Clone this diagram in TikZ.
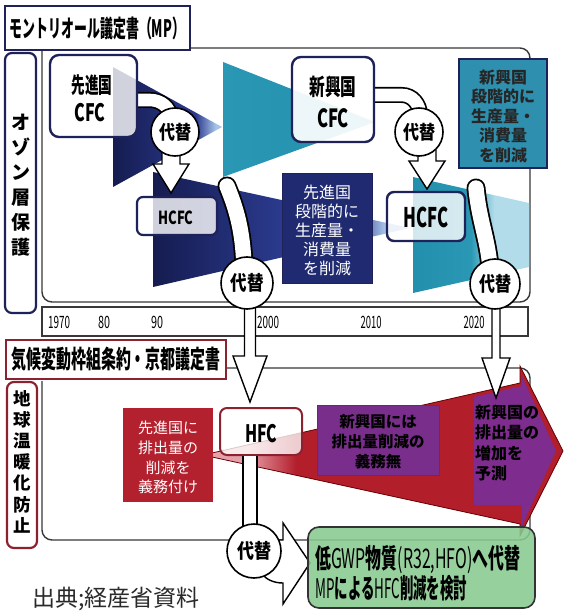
\documentclass[tikz,border=0pt]{standalone}
\usepackage{fontspec}
\setmainfont{Noto Sans CJK JP}
\usepackage{graphicx}
\definecolor{nv1}{HTML}{151C50}
\definecolor{nv2}{HTML}{2B3A8E}
\definecolor{nvL}{HTML}{A6C2E8}
\definecolor{navyB}{HTML}{1E2258}
\definecolor{navybox}{HTML}{1F2A70}
\definecolor{teal1}{HTML}{2290AD}
\definecolor{teal2}{HTML}{2A98B4}
\definecolor{tealL}{HTML}{B2DCEA}
\definecolor{tealbox}{HTML}{2F8FAE}
\definecolor{frm}{HTML}{383838}
\definecolor{redB}{HTML}{8C2230}
\definecolor{redA}{HTML}{B31E2B}
\definecolor{pinkA}{HTML}{E6A0AA}
\definecolor{redbox}{HTML}{B3202E}
\definecolor{purp}{HTML}{7E2C8D}
\definecolor{purpbox}{HTML}{7A2E8C}
\definecolor{grn}{HTML}{88CA90}
\definecolor{srcgray}{HTML}{2A2A2A}
\pgfdeclarehorizontalshading{navyA}{100bp}{color(0bp)=(nv1); color(25bp)=(nv1); color(63bp)=(nv2); color(72bp)=(nvL); color(100bp)=(nvL)}
\pgfdeclarehorizontalshading{navyC}{100bp}{color(0bp)=(nv1); color(25bp)=(nv1); color(50bp)=(nv2); color(64bp)=(nv2); color(70bp)=(nvL); color(100bp)=(nvL)}
\pgfdeclarehorizontalshading{tealA}{100bp}{color(0bp)=(teal2); color(25bp)=(teal2); color(75bp)=(teal1); color(100bp)=(teal1)}
\pgfdeclarehorizontalshading{tealB}{100bp}{color(0bp)=(teal1); color(25bp)=(teal1); color(50bp)=(teal2); color(60bp)=(tealL); color(100bp)=(tealL)}
\pgfdeclarehorizontalshading{redS}{100bp}{color(0bp)=(pinkA); color(25bp)=(pinkA); color(30bp)=(pinkA); color(37bp)=(redA); color(100bp)=(redA)}
\newcommand\fw[3]{\resizebox{#1}{\height}{\fontsize{#2}{#2}\selectfont #3}}
\begin{document}
\begin{tikzpicture}[x=1pt,y=-1pt,
  frameline/.style={draw=frm,line width=1.4pt},
  cbox/.style={draw=navyB,line width=2.4pt,rounded corners=9pt,fill=white,fill opacity=0.8,inner sep=0pt},
  txt/.style={inner sep=0pt},
  bandO/.style={draw=black,line width=19pt,line cap=round},
  bandI/.style={draw=white,line width=15.4pt,line cap=round},
  bandOs/.style={draw=black,line width=16pt},
  bandIs/.style={draw=white,line width=12.6pt},
  subst/.style={circle,draw=black,line width=1.6pt,fill=white,inner sep=0pt},
  warrow/.style={draw=black,line width=1.4pt,fill=white,line join=miter},
  yr/.style={inner sep=0pt}
]
\useasboundingbox[fill=white] (0,0) rectangle (564,612);

% frames
\draw[frameline,rounded corners=10pt] (190,48) -- (530,48) -- (530,302) -- (42,302) -- (42,51);
\draw[frameline,rounded corners=10pt] (226,368) -- (530,368) -- (530,540) -- (42,540) -- (42,381);

% timeline
\node[draw=frm,line width=1.4pt,fill=white,minimum width=486pt,minimum height=29pt,inner sep=0pt] (tline) at (285,321.5) {};
\node[yr] (y1970) at (59,322) {\fw{22pt}{17}{1970}};
\node[yr] (y1980) at (104,322) {\fw{12pt}{17}{80}};
\node[yr] (y1990) at (157,322) {\fw{12pt}{17}{90}};
\node[yr] (y2000) at (268,322) {\fw{22pt}{17}{2000}};
\node[yr] (y2010) at (371,322) {\fw{21pt}{17}{2010}};
\node[yr] (y2020) at (474,322) {\fw{21pt}{17}{2020}};

% left boxes
\node[draw=navyB,line width=2.2pt,rounded corners=7pt,fill=white,minimum width=31pt,minimum height=260pt,inner sep=0pt] (ozbox) at (20.5,183) {};
\node[txt,align=center,font=\fontsize{19}{25}\selectfont\bfseries] (oztxt) at (20.5,185.5) {オ\\ゾ\\ン\\層\\保\\護};
\node[draw=redB,line width=2.2pt,rounded corners=7pt,fill=white,minimum width=30pt,minimum height=166pt,inner sep=0pt] (gwbox) at (22,465) {};
\node[txt,align=center,font=\fontsize{17.5}{21.2}\selectfont\bfseries] (gwtxt) at (22,461.5) {地\\球\\温\\暖\\化\\防\\止};

% title boxes
\node[draw=navyB,line width=2.6pt,fill=white,minimum width=185pt,minimum height=44pt,inner sep=0pt] (mp) at (97.5,28) {\fw{175pt}{24}{\bfseries モントリオール議定書（MP）}};
\node[draw=redB,line width=2.4pt,fill=white,minimum width=220pt,minimum height=39pt,inner sep=0pt] (kyoto) at (116,359.5) {\fw{209pt}{25}{\bfseries 気候変動枠組条約・京都議定書}};

% wedges
\shade[shading=navyA] (113,67) -- (222,127) -- (113,187) -- cycle;
\shade[shading=navyC] (153,172) -- (410,228) -- (153,287) -- cycle;
\draw[bandO] (227,186) .. controls (236,208) and (243,230) .. (244,268);
\draw[bandI] (227,186) .. controls (236,208) and (243,230) .. (244,268);
\shade[shading=tealA] (223,62) -- (375,122) -- (223,177) -- cycle;
\shade[shading=tealB] (413,177) -- (529,203) -- (529,267) -- (413,293) -- cycle;
\draw[bandO] (476,188) .. controls (479,220) and (488,240) .. (490,268);
\draw[bandI] (476,188) .. controls (479,220) and (488,240) .. (490,268);
\draw[bandOs] (136,100) -- (150,100) to[out=0,in=95] (171,118);
\draw[bandIs] (136,100) -- (150,100) to[out=0,in=95] (171,118);
\draw[bandOs] (373,95) -- (402,95) to[out=0,in=90] (420,115);
\draw[bandIs] (373,95) -- (402,95) to[out=0,in=90] (420,115);

% CFC / HCFC boxes
\node[cbox,minimum width=87pt,minimum height=82pt] (cfcA) at (93.5,96) {};
\node[txt] (cfcAt1) at (92,85) {\fw{41pt}{22}{\bfseries 先進国}};
\node[txt] (cfcAt2) at (90,113) {\fw{31pt}{24}{\bfseries CFC}};
\node[cbox,fill opacity=0.92,minimum width=82pt,minimum height=85pt] (cfcB) at (333,99.5) {};
\node[txt] (cfcBt1) at (333,87) {\fw{47pt}{23}{\bfseries 新興国}};
\node[txt] (cfcBt2) at (333,118) {\fw{32pt}{25}{\bfseries CFC}};
\node[cbox,line width=2.2pt,rounded corners=6pt,minimum width=80pt,minimum height=38pt] (hcfcA) at (177,216) {};
\node[txt] (hcfcAt) at (176,218) {\fw{35pt}{18}{\bfseries HCFC}};
\node[cbox,line width=2.4pt,rounded corners=7pt,minimum width=78pt,minimum height=49pt] (hcfcB) at (426,216.5) {};
\node[txt] (hcfcBt) at (426,217) {\fw{45pt}{27}{\bfseries HCFC}};

% text boxes ozone
\node[fill=navybox,draw=navyB,line width=0.8pt,minimum width=90pt,minimum height=110pt,inner sep=0pt] (devbox) at (327,228) {};
\node[txt,align=center,text=white,font=\fontsize{16}{19}\selectfont] (devtxt) at (327,230) {先進国\\段階的に\\生産量・\\消費量\\を削減};
\node[fill=tealbox,draw=navyB,line width=1.5pt,minimum width=88pt,minimum height=109pt,inner sep=0pt] (embox) at (503,113.5) {};
\node[txt,align=center,font=\fontsize{16}{19.5}\selectfont\bfseries,text=black!85] (emtxt) at (503,116) {新興国\\段階的に\\生産量・\\消費量\\を削減};

% substitution arrows, ozone
\draw[warrow] (162,150) -- (162,164) -- (153,164) -- (171,193) -- (189,164) -- (180,164) -- (180,150);
\node[subst,minimum size=48pt] (subA) at (175,132) {\fw{32pt}{19}{\bfseries 代替}};
\draw[warrow] (418,150) -- (418,161) -- (409,161) -- (427,189) -- (445,161) -- (436,161) -- (436,150);
\node[subst,minimum size=48pt] (subB) at (419,132) {\fw{32pt}{19}{\bfseries 代替}};
\draw[warrow] (244.5,295) -- (244.5,356) -- (233,356) -- (250,402) -- (267,356) -- (255.5,356) -- (255.5,295);
\node[subst,minimum size=52pt] (subC) at (247,283) {\fw{33pt}{20}{\bfseries 代替}};

% climate: emissions arrow
\path[draw=red!40!black,line width=0.8pt,shade,shading=redS] (212,453) -- (520,383) -- (520,366) -- (563,451) -- (520,536) -- (520,524) -- (212,457) -- cycle;
\fill[purp] (474,397) -- (522,386) -- (522,376) -- (556,451) -- (522,526) -- (522,505) -- (474,505) -- cycle;
\node[txt,anchor=west,align=left,font=\fontsize{16}{20.3}\selectfont\bfseries] (emgrow) at (475,443) {新興国の\\排出量の\\増加を\\予測};
\node[fill=redbox,minimum width=90pt,minimum height=94pt,inner sep=0pt] (devred) at (168,455) {};
\node[txt,align=center,text=white,font=\fontsize{15}{19.7}\selectfont] (devredt) at (168,457.5) {先進国に\\排出量の\\削減を\\義務付け};
\node[fill=purpbox,draw=redB,line width=1pt,minimum width=122pt,minimum height=70pt,inner sep=0pt] (empurp) at (378,440) {};
\node[txt,align=center,font=\fontsize{15.5}{20}\selectfont\bfseries] (empurpt) at (378,442) {新興国には\\排出量削減の\\義務無};
\node[draw=redB,line width=2pt,rounded corners=7pt,fill=white,fill opacity=0.78,minimum width=82pt,minimum height=47pt,inner sep=0pt] (hfc) at (261,431.5) {};
\node[txt] (hfct) at (261,434) {\fw{32pt}{24}{\bfseries HFC}};

% 2020 arrow
\draw[warrow] (492,298) -- (492,358) -- (482,358) -- (496,398) -- (510,358) -- (500,358) -- (500,298);
\node[subst,minimum size=50pt] (subD) at (495,284) {\fw{32pt}{20}{\bfseries 代替}};

% HFC -> green
\draw[warrow] (243,456) -- (243,530) -- (257,530) -- (257,456);
\draw[warrow] (250,540) -- (283,540) -- (283,523) -- (310,563) -- (283,604) -- (283,583) .. controls (273,583) and (266,579) .. (262,574) -- (250,560) -- cycle;
\node[subst,minimum size=54pt] (subE) at (254,551) {\fw{34pt}{20}{\bfseries 代替}};
\node[draw=black!80,line width=1.6pt,rounded corners=11pt,fill=grn,fill opacity=0.88,minimum width=227pt,minimum height=81pt,inner sep=0pt] (gwp) at (421.5,567.5) {};
\node[txt,anchor=west] (gwp1) at (315,560) {\fw{205pt}{27}{{\bfseries 低}GWP{\bfseries 物質}(R32,HFO){\bfseries へ代替}}};
\node[txt,anchor=west] (gwp2) at (315,588) {\fw{152pt}{27}{MP{\bfseries による}HFC{\bfseries 削減を検討}}};

% source
\node[txt,anchor=west,text=srcgray] (src) at (32,599) {\fontsize{23}{23}\selectfont 出典;経産省資料};
\end{tikzpicture}
\end{document}
